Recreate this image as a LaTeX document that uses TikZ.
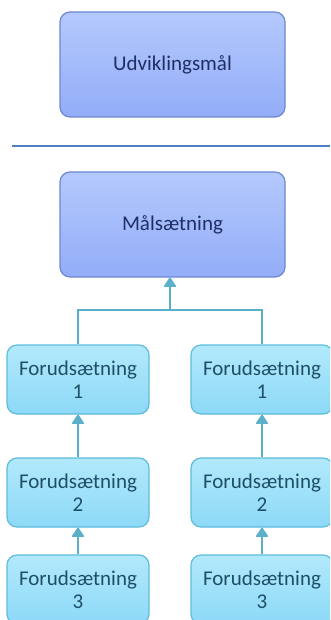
\documentclass[tikz,border=0pt]{standalone}
\usepackage{fontspec}
\setmainfont{Carlito}
\usetikzlibrary{arrows.meta}
\definecolor{goalfillA}{HTML}{B4C9FD}
\definecolor{goalfillB}{HTML}{93ADF8}
\definecolor{goaldraw}{HTML}{6D88D2}
\definecolor{goaltext}{HTML}{1F2F66}
\definecolor{prefillA}{HTML}{B2E9FC}
\definecolor{prefillB}{HTML}{8DD9F7}
\definecolor{predraw}{HTML}{5FBCDB}
\definecolor{pretext}{HTML}{1D4F66}
\definecolor{connclr}{HTML}{5AAFCB}
\definecolor{sepclr}{HTML}{4F7EC2}
\tikzset{
  goalbox/.style={draw=goaldraw, line width=1.2pt, rounded corners=10pt,
    top color=goalfillA, bottom color=goalfillB,
    minimum width=225pt, minimum height=105pt,
    font=\fontsize{21}{23}\selectfont, text=goaltext, align=center},
  prebox/.style={draw=predraw, line width=1.2pt, rounded corners=10pt,
    top color=prefillA, bottom color=prefillB,
    minimum width=142pt, minimum height=69pt,
    font=\fontsize{21}{23}\selectfont, text=pretext, align=center},
  conn/.style={draw=connclr, line width=2.2pt},
  arr/.style={conn, -{Triangle[width=13pt,length=10pt,line join=round,line width=1.5pt]}},
}
\begin{document}
\begin{tikzpicture}[x=1pt,y=-1pt]
\useasboundingbox (0,0) rectangle (330,620);
\clip (0,0) rectangle (330,620);
% overall goal above the separator
\node[goalbox] (udv) at (172.5,64.5) {Udviklingsmål};
\coordinate (sepL) at (12,146);
\coordinate (sepR) at (330,146);
\draw[sepclr, line width=1.5pt] (sepL) -- (sepR);
% objective
\node[goalbox] (maal) at (172.5,224.5) {Målsætning};
% two columns of preconditions
\node[prebox] (l1) at (78,379.5) {Forudsætning\\1};
\node[prebox] (l2) at (78,492.5) {Forudsætning\\2};
\node[prebox] (l3) at (78,589.5) {Forudsætning\\3};
\node[prebox] (r1) at (262,379.5) {Forudsætning\\1};
\node[prebox] (r2) at (262,492.5) {Forudsætning\\2};
\node[prebox] (r3) at (262,589.5) {Forudsætning\\3};
% connectors
\coordinate (junc) at (170,310);
\draw[conn] (l1.north) |- (junc) -| (r1.north);
\draw[arr] (junc) -- (junc |- maal.south);
\draw[arr] (l2) -- (l1);
\draw[arr] (l3) -- (l2);
\draw[arr] (r2) -- (r1);
\draw[arr] (r3) -- (r2);
\end{tikzpicture}
\end{document}
